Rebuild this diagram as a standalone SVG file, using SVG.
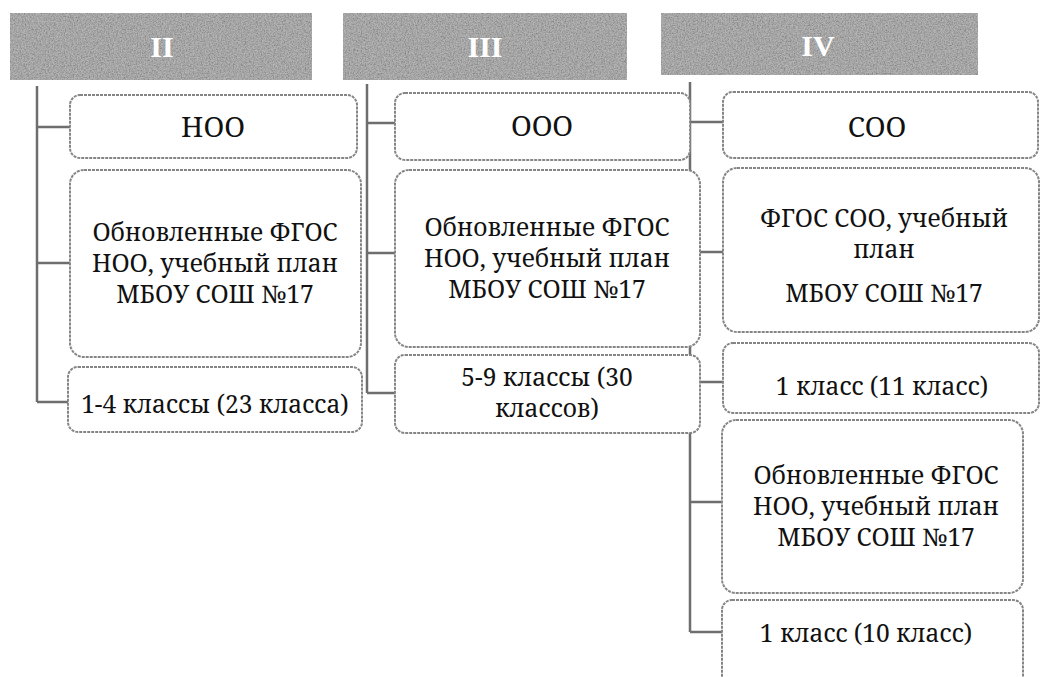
<svg xmlns="http://www.w3.org/2000/svg" width="1041" height="677" viewBox="0 0 1041 677">
<style>
.bar{fill:#b4b4b4;}
.hd{font-family:"Liberation Serif","Noto Serif",serif;font-size:30px;font-weight:bold;fill:#ffffff;text-anchor:middle;}
.box{fill:#ffffff;stroke:#858585;stroke-width:2;stroke-dasharray:3 1;}
.t{font-family:"Noto Serif","DejaVu Serif",serif;font-size:24.5px;fill:#111111;text-anchor:middle;}
.tb{font-family:"Noto Serif","DejaVu Serif",serif;font-size:28px;fill:#111111;text-anchor:middle;}
.ln{stroke:#6e6e6e;stroke-width:2.5;fill:none;}
</style>
<defs>
<filter id="grain" x="0" y="0" width="100%" height="100%">
<feTurbulence type="fractalNoise" baseFrequency="0.75" numOctaves="2" seed="4" result="n"/>
<feColorMatrix in="n" type="matrix" values="0 0 0 0 0.2  0 0 0 0 0.2  0 0 0 0 0.2  1.8 0 0 0 -0.6" result="dots"/>
<feComposite in="dots" in2="SourceGraphic" operator="in" result="m"/>
<feMerge><feMergeNode in="SourceGraphic"/><feMergeNode in="m"/></feMerge>
</filter>
</defs>
<rect width="1041" height="677" fill="#ffffff"/>
<g id="header-II">
<rect class="bar" x="10" y="13" width="302" height="67" filter="url(#grain)"/>
<text class="hd" x="162" y="57">II</text>
</g>
<g id="header-III">
<rect class="bar" x="343" y="13" width="284" height="67" filter="url(#grain)"/>
<text class="hd" x="485" y="57">III</text>
</g>
<g id="header-IV">
<rect class="bar" x="661" y="13" width="317" height="62" filter="url(#grain)"/>
<text class="hd" x="818" y="56">IV</text>
</g>
<g id="connectors">
<path class="ln" d="M37 86 V402 M37 127 H70 M37 263 H70 M37 402 H68"/>
<path class="ln" d="M367 84 V393 M367 123 H395 M367 253 H395 M367 393 H395"/>
<path class="ln" d="M690 82 V632 M690 122 H723 M690 252 H723 M690 382 H723 M690 502 H722 M690 632 H722"/>
</g>
<g id="noo">
<rect class="box" x="70" y="95" width="287" height="63" rx="10"/>
<text class="tb" x="213" y="137">НОО</text>
</g>
<g id="noo-fgos">
<rect class="box" x="70" y="170" width="291" height="187" rx="14"/>
<text class="t" x="215" y="241">Обновленные ФГОС</text>
<text class="t" x="215" y="272">НОО, учебный план</text>
<text class="t" x="215" y="303">МБОУ СОШ №17</text>
</g>
<g id="noo-classes">
<rect class="box" x="68" y="367" width="294" height="65" rx="10"/>
<text class="t" x="215" y="413">1-4 классы (23 класса)</text>
</g>
<g id="ooo">
<rect class="box" x="395" y="93" width="295" height="67" rx="10"/>
<text class="tb" x="542" y="136">ООО</text>
</g>
<g id="ooo-fgos">
<rect class="box" x="395" y="170" width="305" height="177" rx="14"/>
<text class="t" x="547" y="236">Обновленные ФГОС</text>
<text class="t" x="547" y="267">НОО, учебный план</text>
<text class="t" x="547" y="298">МБОУ СОШ №17</text>
</g>
<g id="ooo-classes">
<rect class="box" x="395" y="355" width="305" height="78" rx="10"/>
<text class="t" x="547" y="386">5-9 классы (30</text>
<text class="t" x="547" y="417">классов)</text>
</g>
<g id="soo">
<rect class="box" x="723" y="92" width="315" height="66" rx="10"/>
<text class="tb" x="877" y="137">СОО</text>
</g>
<g id="soo-fgos">
<rect class="box" x="723" y="168" width="316" height="164" rx="14"/>
<text class="t" x="884" y="227">ФГОС СОО, учебный</text>
<text class="t" x="884" y="258">план</text>
<text class="t" x="884" y="302">МБОУ СОШ №17</text>
</g>
<g id="soo-11">
<rect class="box" x="723" y="343" width="316" height="70" rx="10"/>
<text class="t" x="882" y="395">1 класс (11 класс)</text>
</g>
<g id="soo-noo-fgos">
<rect class="box" x="722" y="420" width="301" height="173" rx="14"/>
<text class="t" x="876" y="484">Обновленные ФГОС</text>
<text class="t" x="876" y="515">НОО, учебный план</text>
<text class="t" x="876" y="546">МБОУ СОШ №17</text>
</g>
<g id="soo-10">
<rect class="box" x="722" y="600" width="301" height="95" rx="10"/>
<text class="t" x="866" y="642">1 класс (10 класс)</text>
</g>
</svg>
